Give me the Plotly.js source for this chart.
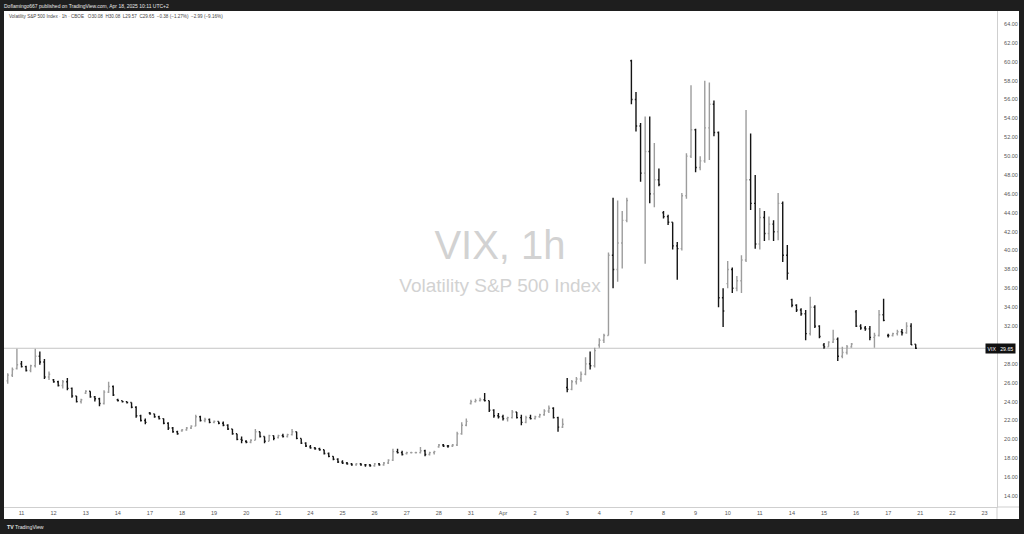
<!DOCTYPE html>
<html><head><meta charset="utf-8">
<script src="https://cdn.plot.ly/plotly-3.0.1.min.js"></script>
<style>html,body{margin:0;padding:0;background:#fff;overflow:hidden}#chart{width:1024px;height:534px}</style>
</head><body><div id="chart"></div>
<script>
// Trading days shown (Mar 10 only partly visible: last 3 hourly bars)
const dataDays = ['10','11','12','13','14','17','18','19','20','21','24','25','26','27','28','31',
                  'Apr','2','3','4','7','8','9','10','11','14','15','16','17'];
const futureDays = ['21','22','23'];
const barsPerDay = 7;
const firstDayStartSlot = 4;

const openV = [
 26.2,26.8,27.5,
 28.0,27.7,27.3,27.8,28.8,28.2,26.6,
 26.3,26.1,25.7,26.1,25.4,24.6,24.0,
 24.9,25.1,24.5,24.3,23.8,25.0,25.6,
 24.2,24.1,24.0,23.9,23.4,22.5,22.0,
 22.8,22.7,22.4,22.2,21.7,21.2,20.8,
 20.9,21.0,21.2,21.4,22.4,22.0,22.1,
 21.8,21.9,21.7,21.5,21.1,20.6,20.0,
 19.8,19.7,19.9,20.8,20.3,19.8,20.4,
 20.2,20.4,20.3,20.5,20.8,20.1,19.6,
 19.2,19.1,19.0,18.9,18.5,18.2,17.9,
 17.6,17.5,17.4,17.3,17.4,17.3,17.3,
 17.2,17.4,17.3,17.5,17.8,18.7,18.6,
 18.5,18.6,18.6,18.6,18.8,18.4,18.6,
 19.2,19.4,19.3,19.3,19.4,20.6,21.5,
 23.8,24.0,24.1,24.2,24.1,23.1,22.5,
 22.4,22.2,22.3,22.9,22.3,21.8,22.3,
 22.2,22.4,22.6,23.0,23.3,22.3,21.3,
 25.5,25.3,26.1,26.4,26.9,28.0,27.8,
 30.0,30.5,31.0,39.5,38.0,40.8,43.2,
 60.1,56.0,53.2,48.2,50.5,46.0,47.5,
 44.0,43.6,43.0,40.5,40.2,45.8,50.0,
 52.8,48.8,49.5,53.0,55.5,52.5,35.0,
 36.5,38.0,36.0,36.8,39.0,47.5,45.0,
 40.7,43.5,41.8,42.8,42.0,45.0,39.5,
 34.8,34.2,33.7,33.3,31.2,34.0,32.0,
 30.0,29.8,30.3,30.6,28.8,29.2,29.8,
 33.5,32.0,31.8,31.7,30.8,31.0,33.2,
 31.0,31.0,31.2,31.4,31.3,32.0,30.08
];
const highV = [
 27.0,27.6,29.6,
 28.3,27.8,27.9,29.6,29.3,28.5,27.2,
 26.4,26.2,26.3,26.5,25.5,24.6,24.3,
 25.2,25.1,24.6,24.4,25.2,26.1,25.7,
 24.3,24.1,24.0,23.9,23.5,22.6,22.2,
 22.9,22.7,22.5,22.2,21.8,21.3,20.9,
 21.1,21.3,21.5,22.6,22.5,22.3,22.2,
 22.0,21.9,21.9,21.6,21.1,20.6,20.3,
 19.9,20.0,21.1,20.8,20.3,20.5,20.4,
 20.5,20.6,20.6,21.1,20.8,20.1,19.7,
 19.4,19.2,19.1,18.9,18.6,18.2,18.0,
 17.8,17.6,17.5,17.5,17.5,17.4,17.4,
 17.5,17.5,17.6,17.9,19.0,19.0,18.8,
 18.7,18.7,18.7,19.2,18.9,18.7,18.8,
 19.5,19.5,19.4,19.5,20.8,21.8,22.2,
 24.2,24.3,24.4,24.9,24.1,23.2,22.8,
 22.6,22.4,23.1,22.9,22.6,22.5,22.6,
 22.5,22.7,23.2,23.6,23.4,22.4,22.2,
 26.5,26.3,26.6,27.2,28.7,29.3,29.7,
 30.7,31.2,39.8,45.6,45.3,44.2,45.6,
 60.2,56.8,53.5,54.2,54.2,51.4,48.7,
 44.2,43.8,43.0,40.9,46.1,50.3,57.5,
 52.9,50.0,58.0,57.8,55.9,52.6,36.0,
 38.9,38.2,37.3,39.5,54.9,52.4,48.0,
 44.5,44.2,43.6,43.2,46.1,45.2,40.6,
 34.9,34.3,33.9,33.7,35.1,34.2,32.1,
 30.2,30.4,31.6,30.8,29.8,30.0,30.2,
 33.7,32.2,32.0,32.0,31.3,33.7,34.9,
 31.2,31.3,31.6,31.7,32.4,32.3,30.08
];
const lowV = [
 25.9,26.6,27.4,
 27.6,27.2,27.1,27.6,27.9,26.4,26.3,
 26.0,25.6,25.4,25.2,24.4,23.9,23.8,
 24.8,24.4,24.0,23.5,23.7,24.9,24.6,
 24.0,23.9,23.8,23.3,22.3,21.9,21.6,
 22.6,22.3,22.1,21.6,21.0,20.7,20.5,
 20.8,20.9,21.1,21.4,21.9,21.8,21.7,
 21.7,21.6,21.4,21.0,20.5,19.9,19.6,
 19.6,19.6,19.9,20.2,19.6,19.8,19.9,
 20.1,20.2,20.2,20.4,20.0,19.5,19.2,
 19.0,18.9,18.8,18.4,18.1,17.8,17.5,
 17.4,17.3,17.2,17.2,17.2,17.1,17.1,
 17.1,17.2,17.2,17.4,17.7,18.5,18.3,
 18.4,18.5,18.5,18.5,18.2,18.3,18.4,
 19.1,19.2,19.1,19.2,19.3,20.5,21.4,
 23.7,23.9,24.0,24.0,22.9,22.3,22.2,
 22.0,21.9,22.2,22.2,21.5,21.7,22.1,
 22.1,22.3,22.5,22.8,22.2,20.8,21.2,
 25.0,25.2,25.8,26.1,26.8,27.4,27.6,
 29.7,30.2,31.0,36.0,36.7,38.1,43.0,
 55.5,52.6,47.3,38.6,45.0,44.6,46.8,
 43.4,42.7,40.1,36.9,40.0,45.5,49.8,
 48.3,48.5,49.3,49.6,52.1,34.0,31.9,
 36.0,35.5,35.7,35.5,38.8,44.3,40.2,
 40.1,41.0,41.1,41.0,41.1,38.8,36.9,
 34.0,33.5,33.1,30.5,31.0,31.8,30.7,
 29.6,29.8,30.2,28.3,28.6,29.0,29.7,
 31.9,31.6,31.5,30.5,29.7,30.9,32.5,
 30.8,30.9,31.0,31.0,31.2,30.0,29.57
];
const closeV = [
 26.8,27.4,27.9,
 27.7,27.3,27.8,28.8,28.2,26.6,26.9,
 26.1,25.7,26.1,25.4,24.6,24.0,24.2,
 25.1,24.5,24.3,23.8,25.0,25.6,24.7,
 24.1,24.0,23.9,23.4,22.5,22.0,21.8,
 22.7,22.4,22.2,21.7,21.2,20.8,20.6,
 21.0,21.2,21.4,22.4,22.0,22.1,21.8,
 21.9,21.7,21.5,21.1,20.6,20.0,19.9,
 19.7,19.9,20.8,20.3,19.8,20.4,20.1,
 20.4,20.3,20.5,20.8,20.1,19.6,19.3,
 19.1,19.0,18.9,18.5,18.2,17.9,17.6,
 17.5,17.4,17.3,17.4,17.3,17.3,17.2,
 17.4,17.3,17.5,17.8,18.7,18.6,18.4,
 18.6,18.6,18.6,18.8,18.4,18.6,18.7,
 19.4,19.3,19.3,19.4,20.6,21.5,21.9,
 24.0,24.1,24.2,24.1,23.1,22.5,22.4,
 22.2,22.3,22.9,22.3,21.8,22.3,22.2,
 22.4,22.6,23.0,23.3,22.3,21.3,21.6,
 25.3,26.1,26.4,26.9,28.0,27.8,29.4,
 30.5,31.0,39.5,38.0,40.8,43.2,45.3,
 56.0,53.2,48.2,50.5,46.0,47.5,47.0,
 43.6,43.0,40.5,40.2,45.8,50.0,52.8,
 48.8,49.5,53.0,55.5,52.5,35.0,33.6,
 38.0,36.0,36.8,39.0,47.5,45.0,40.7,
 43.5,41.8,42.8,42.0,45.0,39.5,37.6,
 34.2,33.7,33.3,31.2,34.0,32.0,30.9,
 29.8,30.3,30.6,28.8,29.2,29.8,30.1,
 32.0,31.8,31.7,30.8,31.0,33.2,32.6,
 31.0,31.2,31.4,31.3,32.0,30.03,29.65
];
const priceTicks = [14,16,18,20,22,24,26,28,32,34,36,38,40,42,44,46,48,50,52,54,56,58,60,62,64];
const lastPrice = 29.65;
const symbol = 'VIX';
const legendText = 'Volatility S&P 500 Index · 1h · CBOE   O30.08  H30.08  L29.57  C29.65  −0.38 (−1.27%)  −2.99 (−9.16%)';
const headerText = 'Doflamingo667 published on TradingView.com, Apr 18, 2025 10:11 UTC+2';

// bar positions (one slot per hourly bar, 7 per session)
const firstCount = barsPerDay - firstDayStartSlot;
const xIdx = closeV.map((_, n) => {
  if (n < firstCount) return firstDayStartSlot + n;
  const m = n - firstCount;
  return (1 + Math.floor(m / barsPerDay)) * barsPerDay + (m % barsPerDay);
});
const allDays = dataDays.concat(futureDays);
const tickvals = [], ticktext = [];
allDays.forEach((d, i) => { if (i > 0) { tickvals.push(i * barsPerDay); ticktext.push(d); } });

// pixel geometry of the plot area: x 4..997, y 11..507
const W = 1024, H = 534, L = 4, R = 997, T = 11, B = 507;
const pxPerBar = 32.1 / barsPerDay;
const x0 = barsPerDay - (21.5 - L) / pxPerBar;
const x1 = x0 + (R - L) / pxPerBar;
const pxPerUnit = 9.44;
const yLow = 14 - (B - 496) / pxPerUnit;
const yHigh = 14 + (B - T - (B - 496)) / pxPerUnit;
const px = v => (v - L) / (R - L);
const py = v => (B - v) / (B - T);

const font = '"Liberation Sans", Arial, sans-serif';
const dark = '#1e1e1e';

const trace = {
  type: 'ohlc', x: xIdx, open: openV, high: highV, low: lowV, close: closeV,
  increasing: {line: {color: '#9d9d9d', width: 1.4}},
  decreasing: {line: {color: '#141414', width: 1.4}},
  tickwidth: 0.26, hoverinfo: 'skip'
};

const layout = {
  width: W, height: H,
  margin: {l: L, r: W - R, t: T, b: H - B, pad: 0},
  paper_bgcolor: '#ffffff', plot_bgcolor: '#ffffff',
  showlegend: false,
  font: {family: font, color: '#555'},
  xaxis: {range: [x0, x1], tickvals: tickvals, ticktext: ticktext, showgrid: false, zeroline: false,
          showline: true, linecolor: '#cfcfcf', linewidth: 1, ticks: '', tickfont: {size: 5.5, color: '#555', family: font},
          rangeslider: {visible: false}, fixedrange: true, ticklabelstandoff: 0},
  yaxis: {side: 'right', range: [yLow, yHigh], tickvals: priceTicks, ticktext: priceTicks.map(v => v.toFixed(2)),
          showgrid: false, zeroline: false, showline: true, linecolor: '#cfcfcf', linewidth: 1, ticks: '',
          tickfont: {size: 5.5, color: '#555', family: font}, fixedrange: true, ticklabelstandoff: 5},
  shapes: [
    // watermark (behind bars)
    {type: 'rect', xref: 'paper', yref: 'paper', x0: px(420), x1: px(580), y0: py(262), y1: py(220), layer: 'below',
     line: {width: 0}, fillcolor: 'rgba(0,0,0,0)',
     label: {text: 'VIX, 1h', textposition: 'middle center', font: {size: 40, color: '#d2d2d2', family: font}}},
    {type: 'rect', xref: 'paper', yref: 'paper', x0: px(380), x1: px(620), y0: py(295), y1: py(271), layer: 'below',
     line: {width: 0}, fillcolor: 'rgba(0,0,0,0)',
     label: {text: 'Volatility S&P 500 Index', textposition: 'middle center', font: {size: 19, color: '#d2d2d2', family: font}}},
    // last price line
    {type: 'line', xref: 'paper', yref: 'y', x0: 0, x1: 1, y0: lastPrice, y1: lastPrice, layer: 'below',
     line: {color: '#c4c4c4', width: 1}},
    // axis separators extension
    {type: 'line', xref: 'paper', yref: 'paper', x0: 1, x1: 1, y0: py(519), y1: 0, line: {color: '#cfcfcf', width: 1}},
    {type: 'line', xref: 'paper', yref: 'paper', x0: 1, x1: px(1019), y0: 0, y1: 0, line: {color: '#cfcfcf', width: 1}},
    // dark frame
    {type: 'rect', xref: 'paper', yref: 'paper', x0: px(-5), x1: px(1030), y0: py(T), y1: py(-5), fillcolor: dark, line: {width: 0}},
    {type: 'rect', xref: 'paper', yref: 'paper', x0: px(-5), x1: px(1030), y0: py(540), y1: py(519), fillcolor: dark, line: {width: 0}},
    {type: 'rect', xref: 'paper', yref: 'paper', x0: px(-5), x1: px(L), y0: py(540), y1: py(-5), fillcolor: dark, line: {width: 0}},
    {type: 'rect', xref: 'paper', yref: 'paper', x0: px(1019), x1: px(1030), y0: py(540), y1: py(-5), fillcolor: dark, line: {width: 0}}
  ],
  annotations: [
    {xref: 'paper', yref: 'paper', x: px(2), y: py(5.5), xanchor: 'left', yanchor: 'middle', showarrow: false,
     text: headerText, font: {size: 5, color: '#e8e8e8', family: font}},
    {xref: 'paper', yref: 'paper', x: px(7), y: py(16.5), xanchor: 'left', yanchor: 'middle', showarrow: false,
     text: legendText, font: {size: 4.6, color: '#444', family: font}},
    {xref: 'paper', yref: 'y', x: px(985), y: lastPrice, xanchor: 'left', yanchor: 'middle', showarrow: false,
     text: symbol + '&nbsp;&nbsp;&nbsp;' + lastPrice.toFixed(2), bgcolor: '#111111', borderpad: 1.5,
     font: {size: 5.2, color: '#ffffff', family: font}},
    {xref: 'paper', yref: 'paper', x: px(5), y: py(527), xanchor: 'left', yanchor: 'middle', showarrow: false,
     text: '<b>TV</b> TradingView', font: {size: 5.2, color: '#e8e8e8', family: font}}
  ]
};

Plotly.newPlot('chart', [trace], layout, {staticPlot: true, displayModeBar: false});
</script></body></html>
